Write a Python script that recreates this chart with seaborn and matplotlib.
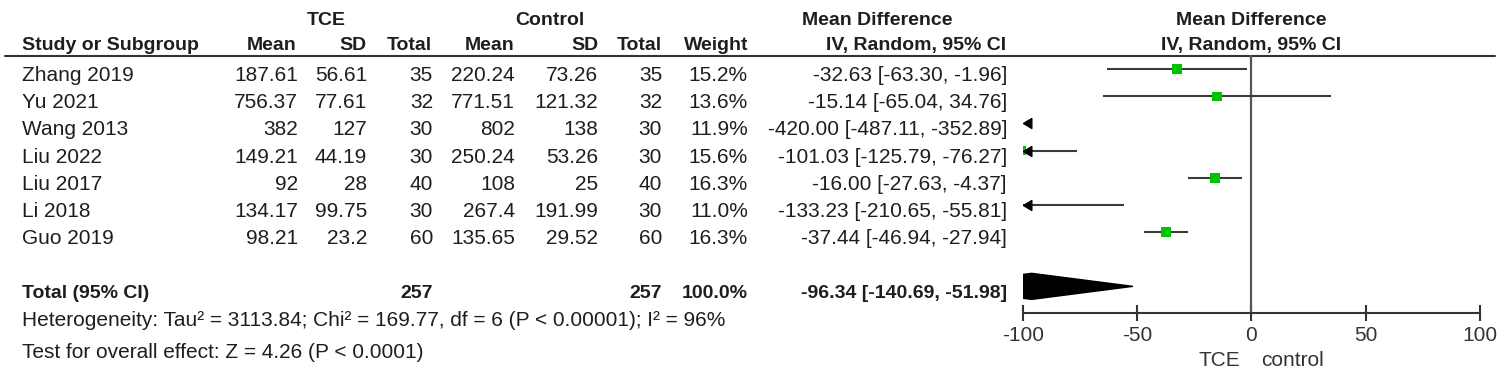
import numpy as np
import pandas as pd
import matplotlib
matplotlib.use('Agg')
import matplotlib.pyplot as plt
import seaborn as sns

sns.set_style('white')
plt.rcParams['font.family'] = ['Liberation Sans', 'DejaVu Sans']

# study data
studies = ['Zhang 2019', 'Yu 2021', 'Wang 2013', 'Liu 2022', 'Liu 2017', 'Li 2018', 'Guo 2019']
tce_mean = [187.61, 756.37, 382, 149.21, 92, 134.17, 98.21]
tce_sd = [56.61, 77.61, 127, 44.19, 28, 99.75, 23.2]
tce_n = [35, 32, 30, 30, 40, 30, 60]
ctl_mean = [220.24, 771.51, 802, 250.24, 108, 267.4, 135.65]
ctl_sd = [73.26, 121.32, 138, 53.26, 25, 191.99, 29.52]
ctl_n = [35, 32, 30, 30, 40, 30, 60]
weight = [15.2, 13.6, 11.9, 15.6, 16.3, 11.0, 16.3]
md = [-32.63, -15.14, -420.00, -101.03, -16.00, -133.23, -37.44]
ci_lo = [-63.30, -65.04, -487.11, -125.79, -27.63, -210.65, -46.94]
ci_hi = [-1.96, 34.76, -352.89, -76.27, -4.37, -55.81, -27.94]

# pooled result
total_n_tce = 257
total_n_ctl = 257
total_weight = 100.0
total_md = -96.34
total_lo = -140.69
total_hi = -51.98
het_text = 'Heterogeneity: Tau² = 3113.84; Chi² = 169.77, df = 6 (P < 0.00001); I² = 96%'
effect_text = 'Test for overall effect: Z = 4.26 (P < 0.0001)'

x_ticks = [-100, -50, 0, 50, 100]

df = pd.DataFrame({'study': studies, 'md': md, 'lo': ci_lo, 'hi': ci_hi, 'weight': weight})
df['row'] = np.arange(len(df))
total_row = len(df) + 1

W, H = 1500, 374
TXT = '#1e1e1e'
FS = 15
FSB = 14

fig = plt.figure(figsize=(W / 100, H / 100), dpi=100)

# text layer in pixel coordinates
tx = fig.add_axes([0, 0, 1, 1])
tx.set_xlim(0, W)
tx.set_ylim(H, 0)
tx.axis('off')

row0, row_h = 69, 27.17
base = lambda r: row0 + row_h * r + 12

def put(x, y, s, ha='right', bold=False, color=TXT, size=None):
    if size is None:
        size = FSB if bold else FS
    tx.text(x, y, s, ha=ha, va='baseline', fontsize=size, color=color,
            fontweight='bold' if bold else 'normal')

# headers
put(326, 25, 'TCE', ha='center', bold=True)
put(550, 25, 'Control', ha='center', bold=True)
put(877, 25, 'Mean Difference', ha='center', bold=True)
put(1251, 25, 'Mean Difference', ha='center', bold=True)
put(22, 50, 'Study or Subgroup', ha='left', bold=True)
for x, s in [(297, 'Mean'), (366, 'SD'), (432, 'Total'), (514, 'Mean'),
             (598, 'SD'), (662, 'Total'), (748, 'Weight'), (1006, 'IV, Random, 95% CI')]:
    put(x, 50, s, bold=True)
put(1251, 50, 'IV, Random, 95% CI', ha='center', bold=True)
tx.plot([5, 1495], [56, 56], color='#333333', lw=1.5)

cols = [298, 367, 433, 515, 598, 662, 748, 1007]
for i in range(len(studies)):
    y = base(i)
    put(22, y, studies[i], ha='left')
    vals = [f'{tce_mean[i]:g}', f'{tce_sd[i]:g}', str(tce_n[i]),
            f'{ctl_mean[i]:g}', f'{ctl_sd[i]:g}', str(ctl_n[i]),
            f'{weight[i]:.1f}%', f'{md[i]:.2f} [{ci_lo[i]:.2f}, {ci_hi[i]:.2f}]']
    for x, s in zip(cols, vals):
        put(x, y, s)

y = base(total_row)
put(22, y, 'Total (95% CI)', ha='left', bold=True)
put(cols[2], y, str(total_n_tce), bold=True)
put(cols[5], y, str(total_n_ctl), bold=True)
put(cols[6], y, f'{total_weight:.1f}%', bold=True)
put(cols[7], y, f'{total_md:.2f} [{total_lo:.2f}, {total_hi:.2f}]', bold=True)
put(22, 326, het_text, ha='left')
put(22, 358, effect_text, ha='left')
put(1240, 366, 'TCE', ha='right', color='#333333')
put(1261, 366, 'control', ha='left', color='#333333')

# forest plot axis
left, right = 1023.3, 1479.7
top, bottom = 55, 313
ax = fig.add_axes([left / W, 1 - bottom / H, (right - left) / W, (bottom - top) / H])
ax.patch.set_alpha(0)
xmin, xmax = x_ticks[0], x_ticks[-1]
ax.set_xlim(xmin, xmax)
ax.set_ylim((bottom - row0) / row_h, (top - row0) / row_h)

ax.axvline(0, color='#555555', lw=1.6, zorder=1)
ax.hlines(df['row'], df['lo'], df['hi'], color='#3a3a3a', lw=1.5, zorder=2)
sns.scatterplot(data=df, x='md', y='row', size='weight', sizes=(0, 52),
                size_norm=(0, max(weight)), marker='s', color='#00c400',
                linewidth=0, legend=False, ax=ax, zorder=3)

# arrows for intervals running past the left edge
clipped = df[df['lo'] < xmin]
arrow = [(0, 0), (1, 0.6), (1, -0.6), (0, 0)]
ax.plot(np.full(len(clipped), xmin), clipped['row'], linestyle='none',
        marker=arrow, markersize=12, color='black', zorder=4, clip_on=False)

# pooled diamond
h = 0.48
ax.fill([total_lo, total_md, total_hi, total_md],
        [total_row, total_row - h, total_row, total_row + h],
        color='black', zorder=3)

for s in ['top', 'left', 'right']:
    ax.spines[s].set_visible(False)
ax.spines['bottom'].set_color('#333333')
ax.spines['bottom'].set_linewidth(1.5)
ax.set_yticks([])
ax.set_xticks(x_ticks)
ax.set_xticklabels([str(t) for t in x_ticks])
ax.tick_params(axis='x', bottom=True, direction='inout', length=11, width=1.5,
               color='#333333', labelsize=FS, labelcolor='#333333', pad=4)
ax.set_xlabel('')
ax.set_ylabel('')

fig.savefig('out.png', dpi=100)
